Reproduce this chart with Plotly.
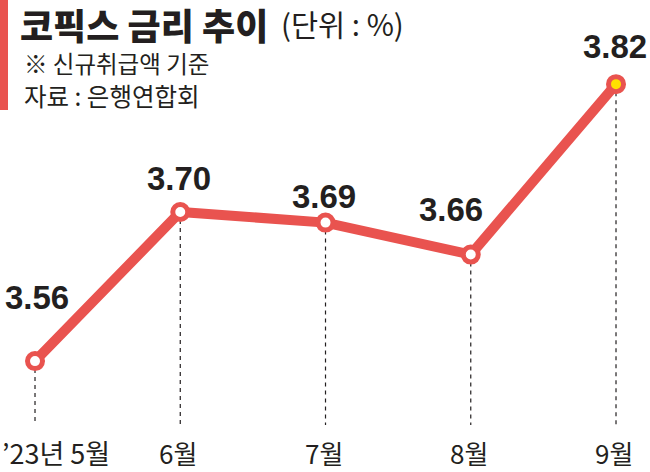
import plotly.graph_objects as go

# data
months = ["’23년 5월", "6월", "7월", "8월", "9월"]
cofix = [3.56, 3.70, 3.69, 3.66, 3.82]
value_labels = ["3.56", "3.70", "3.69", "3.66", "3.82"]

RED = "#e9534f"
INK = "#231f20"
KR = "Noto Sans CJK KR"
NUM = "Liberation Sans, Arial"

W, H = 650, 472
BOTTOM = 47  # px under the plot area for month labels
Y_MIN, Y_MAX = 3.50, 3.899

xs = list(range(len(months)))

fig = go.Figure()

# dashed guides from each point down to the month label
for i, v in zip(xs, cofix):
    fig.add_trace(
        go.Scatter(
            x=[i, i],
            y=[v, Y_MIN],
            mode="lines",
            line=dict(color=INK, width=1.2, dash="4px,4px"),
            hoverinfo="skip",
            showlegend=False,
        )
    )

# main line + markers (last one highlighted in yellow)
fill = ["white"] * (len(cofix) - 1) + ["#ffe100"]
fig.add_trace(
    go.Scatter(
        x=xs,
        y=cofix,
        mode="lines+markers",
        line=dict(color=RED, width=10),
        marker=dict(size=15, color=fill, line=dict(color=RED, width=5)),
        hoverinfo="skip",
        showlegend=False,
    )
)

# value labels (offsets in px from each point)
shifts = [(2, 64), (-1, 33), (-2, 26), (-20, 45), (-1, 38)]
for i, (v, t) in enumerate(zip(cofix, value_labels)):
    dx, dy = shifts[i]
    fig.add_annotation(
        x=i, y=v, text=t, showarrow=False,
        xshift=dx, yshift=dy,
        font=dict(family=NUM, size=33, color=INK, weight="bold"),
    )

# month labels under the dashed lines
for i, m in enumerate(months):
    if i == 0:
        fig.add_annotation(
            x=i, y=0, xref="x", yref="paper", text=m, showarrow=False,
            xanchor="left", yanchor="middle", xshift=-35, yshift=-27,
            font=dict(family=KR, size=27, color=INK),
        )
    else:
        fig.add_annotation(
            x=i, y=0, xref="x", yref="paper", text=m, showarrow=False,
            xanchor="center", yanchor="middle", xshift=-2, yshift=-27,
            font=dict(family=KR, size=26, color=INK),
        )

# header block
ph = H - BOTTOM
fig.add_shape(
    type="rect", xref="paper", yref="paper",
    x0=0, x1=8 / W, y0=1 - 110 / ph, y1=1,
    fillcolor=RED, line_width=0,
)
fig.add_annotation(
    x=0, y=1, xref="paper", yref="paper", text="코픽스 금리 추이",
    showarrow=False, xanchor="left", yanchor="middle", xshift=19, yshift=-24,
    borderpad=0,
    font=dict(family=KR, size=36, color=INK, weight=900),
)
fig.add_annotation(
    x=0, y=1, xref="paper", yref="paper", text="(단위 : %)",
    showarrow=False, xanchor="left", yanchor="middle", xshift=280, yshift=-23,
    borderpad=0,
    font=dict(family=KR, size=29.5, color=INK),
)
fig.add_annotation(
    x=0, y=1, xref="paper", yref="paper", text="※ 신규취급액 기준",
    showarrow=False, xanchor="left", yanchor="middle", xshift=22, yshift=-63,
    font=dict(family=KR, size=23.5, color=INK),
)
fig.add_annotation(
    x=0, y=1, xref="paper", yref="paper", text="자료 : 은행연합회",
    showarrow=False, xanchor="left", yanchor="middle", xshift=22, yshift=-95,
    font=dict(family=KR, size=24.5, color=INK),
)

fig.update_xaxes(visible=False, range=[-0.241, 4.234])
fig.update_yaxes(visible=False, range=[Y_MIN, Y_MAX])
fig.update_layout(
    width=W,
    height=H,
    margin=dict(l=0, r=0, t=0, b=BOTTOM),
    plot_bgcolor="white",
    paper_bgcolor="white",
)

# drop the page's default body margin so the figure sits at 0,0
fig.write_html(
    "out.html",
    config={"displayModeBar": False},
    post_script="document.body.style.margin='0';",
)
